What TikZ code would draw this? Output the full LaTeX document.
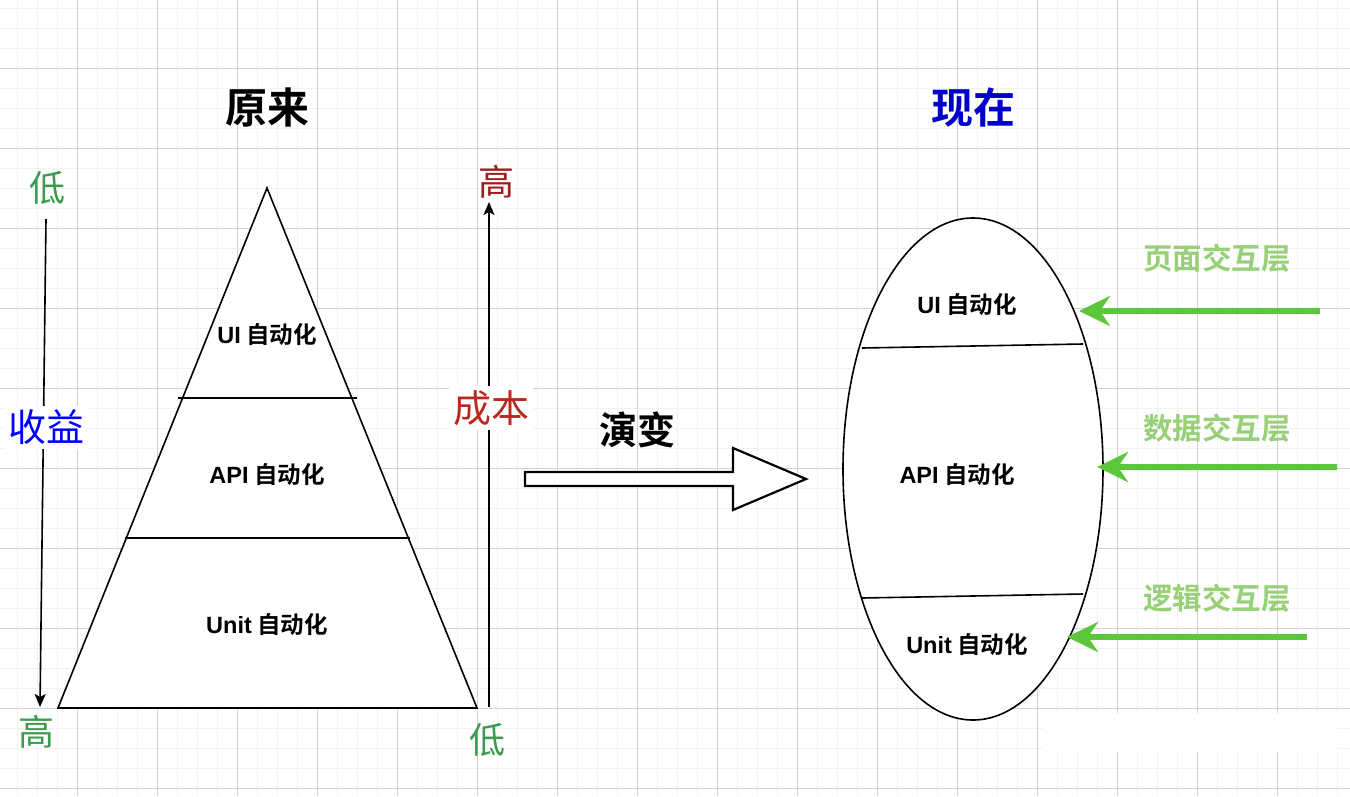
\documentclass[tikz,border=0pt]{standalone}
\usepackage{fontspec}
\setmainfont{Noto Sans CJK SC}[BoldFont={Noto Sans CJK SC Bold}]
\newfontfamily\lat{Liberation Sans}
\usetikzlibrary{arrows.meta,shapes.geometric}
\definecolor{gridminor}{HTML}{F2F2F2}
\definecolor{gridmajor}{HTML}{D2D2D2}
\definecolor{lowgreen}{HTML}{3D9A50}
\definecolor{costred}{HTML}{B8281E}
\definecolor{highred}{HTML}{A01E1E}
\definecolor{nowblue}{HTML}{0000CC}
\definecolor{gainblue}{HTML}{0000FF}
\definecolor{arrowgreen}{HTML}{5CC73A}
\definecolor{layergreen}{HTML}{97D077}
\tikzset{
  titletext/.style={font=\fontsize{42}{48}\selectfont\bfseries, inner sep=0pt},
  endtext/.style={font=\fontsize{36}{40}\selectfont, inner sep=0pt, text=lowgreen},
  axislabel/.style={font=\fontsize{38}{44}\selectfont, fill=white, inner sep=4pt},
  layertext/.style={font=\fontsize{23.5}{28}\selectfont\bfseries, inner sep=0pt},
  intertext/.style={font=\fontsize{29.5}{34}\selectfont\bfseries, text=layergreen, inner sep=0pt},
  axisarrow/.style={line width=1.6pt, -{Stealth[length=13pt,width=11pt,inset=3pt]}},
  greenarrow/.style={line width=6pt, draw=arrowgreen, -{Stealth[length=31pt,width=30pt,inset=10pt]}},
  shapeline/.style={line width=1.6pt},
}
\newcommand{\lt}[1]{{\lat\bfseries #1}}
\begin{document}
\begin{tikzpicture}[x=1pt,y=-1pt]
\useasboundingbox (0,0) rectangle (1350,796);
\fill[white] (0,0) rectangle (1350,796);
% grid
\foreach \i in {0,...,66} \draw[gridminor, line width=1pt] ({17+20*\i},0) -- ({17+20*\i},796);
\foreach \j in {0,...,39} \draw[gridminor, line width=1pt] (0,{8+20*\j}) -- (1350,{8+20*\j});
\foreach \i in {0,...,15} \draw[gridmajor, line width=1pt] ({77+80*\i},0) -- ({77+80*\i},796);
\foreach \j in {0,...,9} \draw[gridmajor, line width=1pt] (0,{68+80*\j}) -- (1350,{68+80*\j});
\fill[white] (1043,713) rectangle (1338,752);

% titles
\node[titletext] (t1) at (267,108) {原来};
\node[titletext, text=nowblue] (t2) at (973,108) {现在};

% left axis
\node[endtext] (lowL) at (47,188) {低};
\node[endtext] (highL) at (37,732) {高};
\coordinate (la1) at (46,219);
\coordinate (la2) at (40,707);
\draw[axisarrow] (la1) -- (la2);
\node[axislabel, text=gainblue] (gain) at (47,427) {收益};

% right axis
\node[endtext, text=highred] (highR) at (496,182) {高};
\node[endtext] (lowR) at (487,740) {低};
\coordinate (ra1) at (489,707);
\coordinate (ra2) at (489,202);
\draw[axisarrow] (ra1) -- (ra2);
\node[axislabel, text=costred] (cost) at (491,408) {成本};

% pyramid
\coordinate (apex) at (267,188);
\coordinate (bl) at (58,708);
\coordinate (br) at (477,708);
\draw[shapeline, fill=white, line join=miter] (apex) -- (br) -- (bl) -- cycle;
\coordinate (p1l) at (178,398);
\coordinate (p1r) at (357,398);
\coordinate (p2l) at (125,538);
\coordinate (p2r) at (410,538);
\draw[shapeline] (p1l) -- (p1r);
\draw[shapeline] (p2l) -- (p2r);
\node[layertext] (pui) at (267,335) {\lt{UI} 自动化};
\node[layertext] (papi) at (267,475) {\lt{API} 自动化};
\node[layertext] (punit) at (267,625) {\lt{Unit} 自动化};

% evolution arrow
\node[titletext, font=\fontsize{38}{44}\selectfont\bfseries] (evo) at (637,430) {演变};
\draw[line width=2.2pt, fill=white, line join=miter]
  (525,472) -- (733,472) -- (733,448) -- (806,479) -- (733,510) -- (733,486) -- (525,486) -- cycle;

% ellipse
\node[ellipse, draw, shapeline, fill=white, minimum width=260pt, minimum height=502pt, inner sep=0pt] (ell) at (973,469) {};
\coordinate (e1l) at (862,348);
\coordinate (e1r) at (1083,344);
\coordinate (e2l) at (862,598);
\coordinate (e2r) at (1083,594);
\draw[shapeline] (e1l) -- (e1r);
\draw[shapeline] (e2l) -- (e2r);
\node[layertext] (eui) at (967,305) {\lt{UI} 自动化};
\node[layertext] (eapi) at (957,475) {\lt{API} 自动化};
\node[layertext] (eunit) at (967,645) {\lt{Unit} 自动化};

% interaction layers
\node[intertext] (l1) at (1217,258) {页面交互层};
\node[intertext] (l2) at (1217,428) {数据交互层};
\node[intertext] (l3) at (1217,598) {逻辑交互层};
\coordinate (g1s) at (1320,311);
\coordinate (g1e) at (1079,311);
\coordinate (g2s) at (1337,467);
\coordinate (g2e) at (1097,467);
\coordinate (g3s) at (1307,637);
\coordinate (g3e) at (1067,637);
\draw[greenarrow] (g1s) -- (g1e);
\draw[greenarrow] (g2s) -- (g2e);
\draw[greenarrow] (g3s) -- (g3e);
\end{tikzpicture}
\end{document}
